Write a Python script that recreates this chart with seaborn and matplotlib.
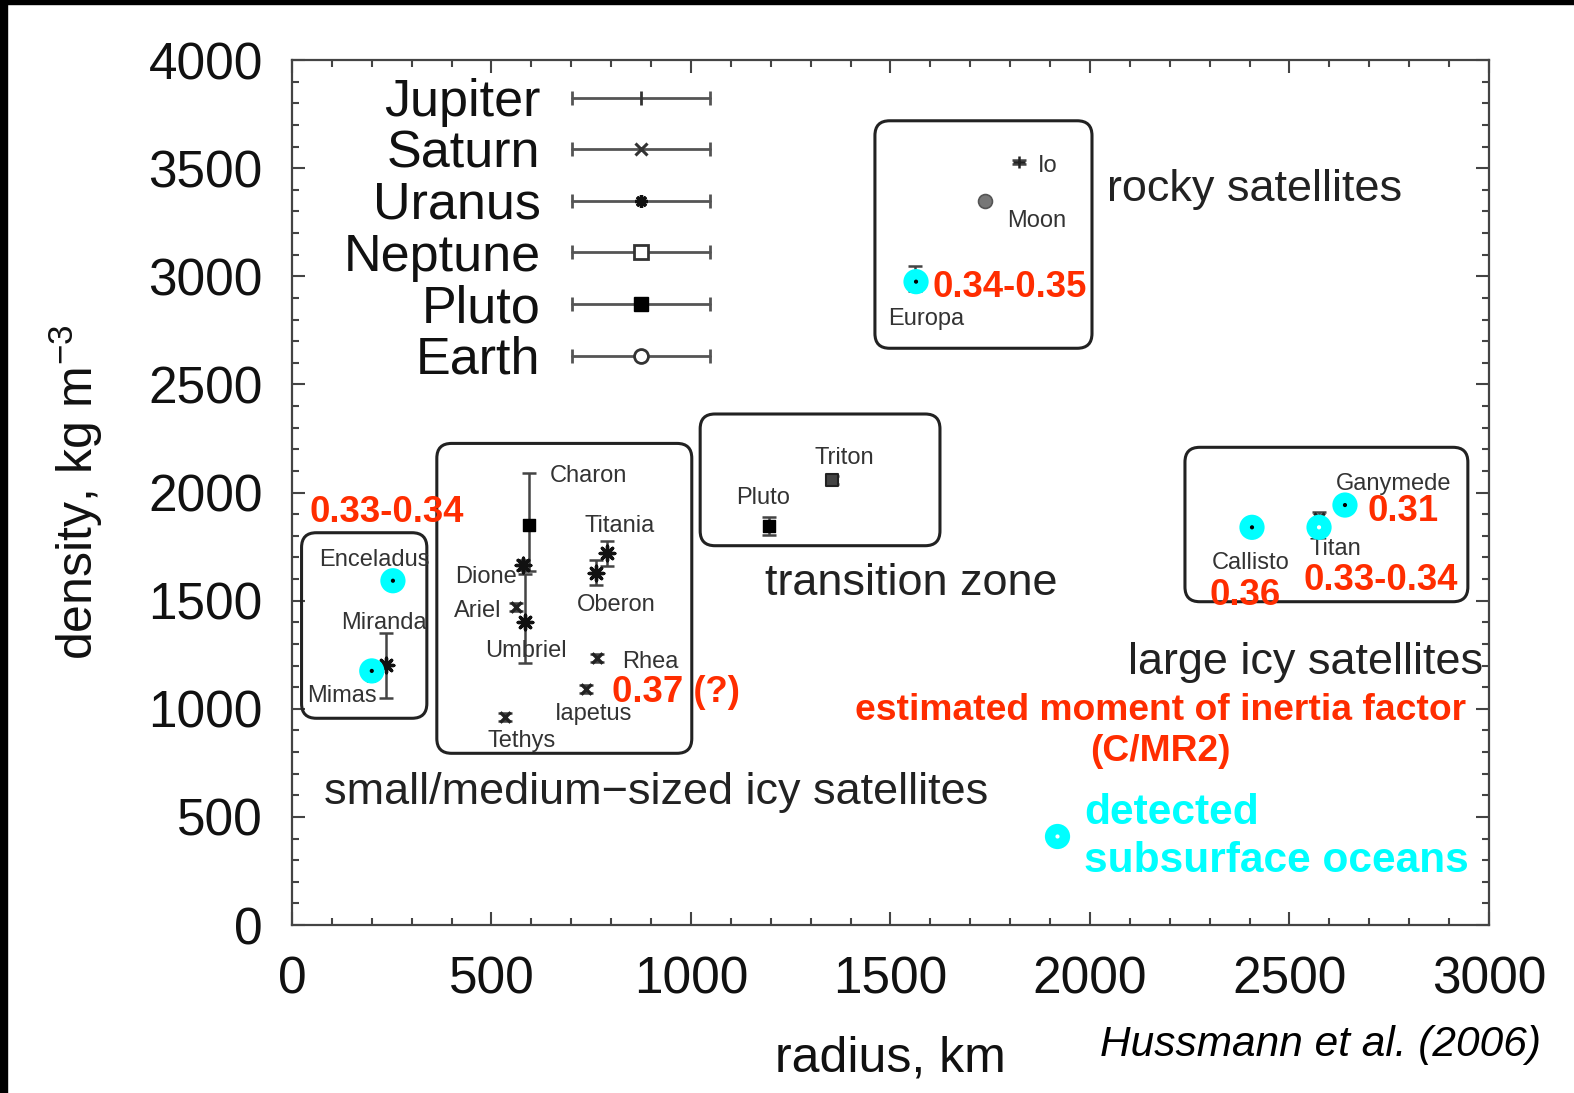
import numpy as np
import pandas as pd
import matplotlib
matplotlib.use("Agg")
import matplotlib.pyplot as plt
import seaborn as sns
from matplotlib.lines import Line2D
from matplotlib.patches import FancyBboxPatch, Rectangle
from matplotlib.legend_handler import HandlerBase
from matplotlib.ticker import MultipleLocator

# ---------------- data ----------------
names = ['Io', 'Europa', 'Ganymede', 'Callisto', 'Mimas', 'Enceladus', 'Tethys',
         'Dione', 'Rhea', 'Titan', 'Iapetus', 'Miranda', 'Ariel', 'Umbriel',
         'Titania', 'Oberon', 'Triton', 'Pluto', 'Charon', 'Moon']
planet = ['Jupiter', 'Jupiter', 'Jupiter', 'Jupiter', 'Saturn', 'Saturn', 'Saturn',
          'Saturn', 'Saturn', 'Saturn', 'Saturn', 'Uranus', 'Uranus', 'Uranus',
          'Uranus', 'Uranus', 'Neptune', 'Pluto', 'Pluto', 'Earth']
radius = [1821, 1561, 2634, 2410, 198, 252, 533, 561, 764, 2575, 736, 236, 579, 585,
          789, 761, 1353, 1195, 593, 1737]
density = [3528, 2990, 1940, 1834, 1150, 1608, 962, 1470, 1235, 1880, 1092, 1202,
           1665, 1400, 1718, 1630, 2058, 1845, 1852, 3347]
err_lo = [10, 57, 10, 10, 10, 10, 18, 18, 18, 31, 18, 150, 25, 190, 60, 60, 20, 40, 215, 5]
err_hi = [10, 57, 10, 10, 10, 10, 18, 18, 18, 31, 18, 150, 25, 225, 60, 60, 20, 40, 236, 5]

label_x = [1870, 1494, 2617, 2305, 38, 68, 491, 408, 828, 2551, 660, 124, 405, 483,
           732, 715, 1309, 1112, 647, 1792]
label_y = [3512, 2802, 2040, 1674, 1061, 1688, 852, 1609, 1214, 1739, 977, 1396, 1452,
           1265, 1845, 1480, 2161, 1975, 2077, 3256]

ocean_x = [253, 200, 1564, 2639, 2406, 2574]
ocean_y = [1592, 1175, 2975, 1942, 1839, 1839]
ocean_dot = ['black', 'black', 'black', 'black', 'black', 'white']

moi_text = ['0.33-0.34', '0.34-0.35', '0.37 (?)', '0.31', '0.36', '0.33-0.34']
moi_x = [43, 1606, 802, 2695, 2300, 2534]
moi_y = [1906, 2950, 1075, 1911, 1526, 1595]

box_x0 = [24, 363, 1023, 1461, 2238]
box_x1 = [338, 1002, 1624, 2005, 2947]
box_y0 = [956, 794, 1754, 2667, 1495]
box_y1 = [1814, 2227, 2363, 3719, 2209]

region_text = ['rocky satellites', 'transition zone',
               'small/medium\u2212sized icy satellites', 'large icy satellites']
region_x = [2043, 1185, 80, 2985]
region_y = [3401, 1577, 611, 1214]
region_ha = ['left', 'left', 'left', 'right']

legend_planets = ['Jupiter', 'Saturn', 'Uranus', 'Neptune', 'Pluto', 'Earth']

df = pd.DataFrame({'name': names, 'planet': planet, 'radius': radius,
                   'density': density, 'lo': err_lo, 'hi': err_hi})

# ---------------- style ----------------
sns.set_theme(style='ticks')
plt.rcParams['font.family'] = ['Liberation Sans', 'DejaVu Sans']
plt.rcParams['mathtext.fontset'] = 'custom'
plt.rcParams['mathtext.rm'] = 'Liberation Sans'
plt.rcParams['mathtext.it'] = 'Liberation Sans:italic'
plt.rcParams['mathtext.bf'] = 'Liberation Sans:bold'

fig = plt.figure(figsize=(15.74, 10.93), dpi=100)
fig.patch.set_facecolor('white')
ax = fig.add_axes([0.1855, 0.1537, 0.7605, 0.7914])

# black frame strips of the screenshot
fig.patches.append(Rectangle((0, 0.9963), 1, 0.0037, transform=fig.transFigure,
                             color='black', zorder=10))
fig.patches.append(Rectangle((0, 0), 0.0045, 1, transform=fig.transFigure,
                             color='black', zorder=10))

marker_style = {
    'Jupiter': dict(marker='+', s=80, color='#222222', linewidth=1.8),
    'Saturn': dict(marker='x', s=55, color='#222222', linewidth=2.4),
    'Uranus': dict(marker=(8, 2, 0), s=110, color='#111111', linewidth=2.4),
    'Neptune': dict(marker='s', s=80, color='#444444', edgecolor='#222222', linewidth=1.5),
    'Pluto': dict(marker='s', s=80, color='#000000', edgecolor='#000000', linewidth=1),
    'Earth': dict(marker='o', s=100, color='#777777', edgecolor='#555555', linewidth=1.2),
}

# error bars
ax.errorbar(df['radius'], df['density'], yerr=[df['lo'], df['hi']], fmt='none',
            ecolor='#444444', elinewidth=1.8, capsize=5, capthick=1.8, zorder=2)

for p in legend_planets:
    sub = df[df['planet'] == p]
    sns.scatterplot(data=sub, x='radius', y='density', ax=ax, legend=False,
                    zorder=3, **marker_style[p])

# ocean circles
sns.scatterplot(x=ocean_x, y=ocean_y, ax=ax, color='#00FFFF', s=330,
                edgecolor='none', legend=False, zorder=6)
ax.scatter(ocean_x, ocean_y, s=9, c=ocean_dot, zorder=7, linewidths=0)

# key circle for "detected subsurface oceans"
ax.scatter([1917], [411], s=330, color='#00FFFF', zorder=6, linewidths=0)
ax.scatter([1917], [411], s=9, color='white', zorder=7, linewidths=0)

# boxes
R = 37.0
for x0, x1, y0, y1 in zip(box_x0, box_x1, box_y0, box_y1):
    bx = FancyBboxPatch((x0, y0), x1 - x0, y1 - y0,
                        boxstyle=f'round,pad=0,rounding_size={R}',
                        mutation_aspect=1.845, fill=False, edgecolor='#222222',
                        linewidth=2.2, zorder=4)
    ax.add_patch(bx)

# satellite labels
for n, lx, ly in zip(names, label_x, label_y):
    ax.text(lx, ly, n, fontsize=17, color='#333333', ha='left', va='center', zorder=5)

# region labels
for t, rx, ry, ha in zip(region_text, region_x, region_y, region_ha):
    ax.text(rx, ry, t, fontsize=32.4, color='#222222', ha=ha, va='center', zorder=5)

# moment of inertia values
RED = '#FF2D00'
for t, mx, my in zip(moi_text, moi_x, moi_y):
    ax.text(mx, my, t, fontsize=26.3, fontweight='bold', color=RED, ha='left',
            va='center', zorder=8)
ax.text(2176, 991, 'estimated moment of inertia factor', fontsize=26.8,
        fontweight='bold', color=RED, ha='center', va='center', zorder=8)
ax.text(2176, 802, '(C/MR2)', fontsize=26.8, fontweight='bold', color=RED,
        ha='center', va='center', zorder=8)

CYAN = '#00FFFF'
ax.text(1985, 518, 'detected', fontsize=30.6, fontweight='bold', color=CYAN,
        ha='left', va='center', zorder=8)
ax.text(1985, 296, 'subsurface oceans', fontsize=30.6, fontweight='bold', color=CYAN,
        ha='left', va='center', zorder=8)

# axes
ax.set_xlim(0, 3000)
ax.set_ylim(0, 4000)
ax.xaxis.set_major_locator(MultipleLocator(500))
ax.xaxis.set_minor_locator(MultipleLocator(100))
ax.yaxis.set_major_locator(MultipleLocator(500))
ax.yaxis.set_minor_locator(MultipleLocator(100))
ax.tick_params(which='both', direction='in', top=True, right=True,
               color='#444444', width=1.5)
ax.tick_params(which='major', length=9.5, labelsize=37, labelcolor='#111111')
ax.tick_params(which='minor', length=5)
ax.tick_params(axis='x', pad=22)
ax.tick_params(axis='y', pad=21)
for s in ax.spines.values():
    s.set_color('#444444')
    s.set_linewidth(1.6)
    s.set_visible(True)
ax.set_xlabel('radius, km', fontsize=36, labelpad=22, color='#111111')
ax.set_ylabel(r'density, kg m$^{\mathregular{-3}}$', fontsize=36, labelpad=31,
              color='#111111')


# legend
class HandlerErrLine(HandlerBase):
    def create_artists(self, legend, orig_handle, xdescent, ydescent, width,
                       height, fontsize, trans):
        y = height / 2 - ydescent
        x0, x1 = -xdescent, width - xdescent
        line = Line2D([x0, x1], [y, y], color='#555555', lw=2.0)
        caps = Line2D([x0, x1], [y, y], ls='none', marker='|', markersize=10,
                      mew=2.0, color='#555555')
        mk = Line2D([(x0 + x1) / 2], [y], ls='none',
                    marker=orig_handle.get_marker(),
                    markersize=orig_handle.get_markersize(),
                    mfc=orig_handle.get_markerfacecolor(),
                    mec=orig_handle.get_markeredgecolor(),
                    mew=orig_handle.get_markeredgewidth())
        for a in (line, caps, mk):
            a.set_transform(trans)
        return [line, caps, mk]


leg_marker = {
    'Jupiter': dict(marker='|', markersize=10, mfc='none', mec='#333333', mew=2.0),
    'Saturn': dict(marker='x', markersize=8, mfc='none', mec='#333333', mew=2.2),
    'Uranus': dict(marker=(8, 2, 0), markersize=9, mfc='none', mec='#111111', mew=2.4),
    'Neptune': dict(marker='s', markersize=10, mfc='white', mec='#333333', mew=2.0),
    'Pluto': dict(marker='s', markersize=10, mfc='black', mec='black', mew=1.0),
    'Earth': dict(marker='o', markersize=10, mfc='white', mec='#333333', mew=2.0),
}
handles = [Line2D([], [], ls='none', **leg_marker[p]) for p in legend_planets]
ax.legend(handles, legend_planets, handler_map={Line2D: HandlerErrLine()},
          loc='upper left', bbox_to_anchor=(0.0429, 0.9795), borderaxespad=0,
          borderpad=0, frameon=False, markerfirst=False, fontsize=37.5,
          handlelength=2.66, handletextpad=0.6, labelspacing=0.05,
          labelcolor='#111111')

fig.text(0.979, 0.0443, 'Hussmann et al. (2006)', fontsize=30.5, style='italic',
         ha='right', va='center', color='black')

fig.savefig('out.png', dpi=100)
